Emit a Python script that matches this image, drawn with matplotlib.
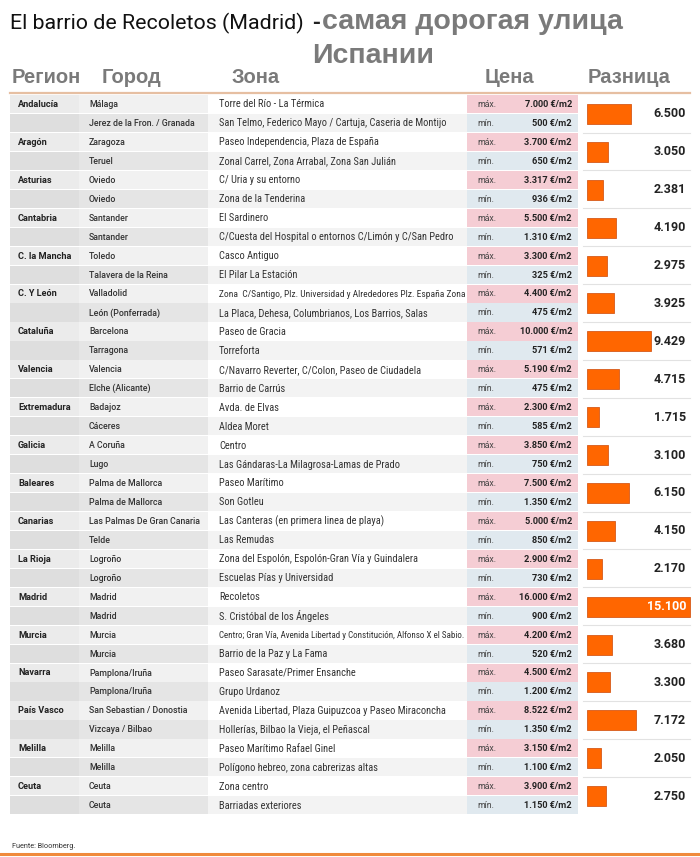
import numpy as np
import matplotlib.pyplot as plt
from matplotlib import font_manager
from matplotlib.patches import Rectangle

regions = ['Andalucía', 'Aragón', 'Asturias', 'Cantabria', 'C. la Mancha', 'C. Y León',
           'Cataluña', 'Valencia', 'Extremadura', 'Galicia', 'Baleares', 'Canarias',
           'La Rioja', 'Madrid', 'Murcia', 'Navarra', 'País Vasco', 'Melilla', 'Ceuta']

cities_max = ['Málaga', 'Zaragoza', 'Oviedo', 'Santander', 'Toledo', 'Valladolid',
              'Barcelona', 'Valencia', 'Badajoz', 'A Coruña', 'Palma de Mallorca',
              'Las Palmas De Gran Canaria', 'Logroño', 'Madrid', 'Murcia', 'Pamplona/Iruña',
              'San Sebastian / Donostia', 'Melilla', 'Ceuta']
cities_min = ['Jerez de la Fron. / Granada', 'Teruel', 'Oviedo', 'Santander',
              'Talavera de la Reina', 'León (Ponferrada)', 'Tarragona', 'Elche (Alicante)',
              'Cáceres', 'Lugo', 'Palma de Mallorca', 'Telde', 'Logroño', 'Madrid', 'Murcia',
              'Pamplona/Iruña', 'Vizcaya / Bilbao', 'Melilla', 'Ceuta']

zones_max = ['Torre del Río - La Térmica', 'Paseo Independencia, Plaza de España',
             'C/ Uria y su entorno', 'El Sardinero', 'Casco Antiguo',
             'Zona  C/Santigo, Plz. Universidad y Alrededores Plz. España Zona',
             'Paseo de Gracia', 'C/Navarro Reverter, C/Colon, Paseo de Ciudadela',
             'Avda. de Elvas', 'Centro', 'Paseo Marítimo',
             'Las Canteras (en primera linea de playa)',
             'Zona del Espolón, Espolón-Gran Vía y Guindalera', 'Recoletos',
             'Centro; Gran Vía, Avenida Libertad y Constitución, Alfonso X el Sabio.',
             'Paseo Sarasate/Primer Ensanche',
             'Avenida Libertad, Plaza Guipuzcoa y Paseo Miraconcha',
             'Paseo Marítimo Rafael Ginel', 'Zona centro']
zones_min = ['San Telmo, Federico Mayo / Cartuja, Caseria de Montijo',
             'Zonal Carrel, Zona Arrabal, Zona San Julián', 'Zona de la Tenderina',
             'C/Cuesta del Hospital o entornos C/Limón y C/San Pedro', 'El Pilar La Estación',
             'La Placa, Dehesa, Columbrianos, Los Barrios, Salas', 'Torreforta',
             'Barrio de Carrús', 'Aldea Moret', 'Las Gándaras-La Milagrosa-Lamas de Prado',
             'Son Gotleu', 'Las Remudas', 'Escuelas Pías y Universidad',
             'S. Cristóbal de los Ángeles', 'Barrio de la Paz y La Fama', 'Grupo Urdanoz',
             'Hollerías, Bilbao la Vieja, el Peñascal', 'Polígono hebreo, zona cabrerizas altas',
             'Barriadas exteriores']

price_max = [7000, 3700, 3317, 5500, 3300, 4400, 10000, 5190, 2300, 3850, 7500, 5000,
             2900, 16000, 4200, 4500, 8522, 3150, 3900]
price_min = [500, 650, 936, 1310, 325, 475, 571, 475, 585, 750, 1350, 850,
             730, 900, 520, 1200, 1350, 1100, 1150]
diffs = [6500, 3050, 2381, 4190, 2975, 3925, 9429, 4715, 1715, 3100, 6150, 4150,
         2170, 15100, 3680, 3300, 7172, 2050, 2750]

plt.rcParams['font.family'] = ['Roboto', 'DejaVu Sans']
ru_font = ['Liberation Sans', 'DejaVu Sans']

# a narrow face for the zone column, if one is installed
installed = {f.name for f in font_manager.fontManager.ttflist}
narrow = [n for n in ['Liberation Sans Narrow', 'Roboto Condensed'] if n in installed]
zone_font = narrow[:1] + ['Roboto', 'DejaVu Sans']
zone_fs = 7.5 if narrow else 6.6


def fmt(v):
    return f'{v:,}'.replace(',', '.')


fig = plt.figure(figsize=(7, 8.57), dpi=100)
ax = fig.add_axes([0, 0, 1, 1])
ax.set_xlim(0, 700)
ax.set_ylim(857, 0)
ax.axis('off')

# title
ax.text(10, 23, 'El barrio de Recoletos (Madrid)', fontsize=15.4, color='#111111', va='center')
ax.text(312, 22, '-', fontsize=17, color='#222222', va='center', fontweight='bold',
        family=ru_font)
ax.text(322, 22, 'самая дорогая улица', fontsize=20.5, color='#7a7a7a', va='center',
        fontweight='bold', family=ru_font)
ax.text(373, 56, 'Испании', fontsize=20.5, color='#7a7a7a', va='center', ha='center',
        fontweight='bold', family=ru_font)

# headers
hdr = dict(fontsize=14.5, color='#7a7a7a', va='center', fontweight='bold', family=ru_font)
ax.text(12, 77, 'Регион', **hdr)
ax.text(102, 77, 'Город', **hdr)
ax.text(232, 77, 'Зона', **hdr)
ax.text(485, 77, 'Цена', **hdr)
ax.text(588, 77, 'Разница', **hdr)
ax.plot([10, 690], [92.5, 92.5], color='#e6bfa2', lw=1.6)

top = 95
rh = 18.95
cols = [(10, 79), (79, 208), (208, 467), (467, 578)]
fill_top = ['#ebebeb', '#f1f1f1', '#ffffff', '#f5cdd4']
fill_bot = ['#dedede', '#e5e5e5', '#f3f3f3', '#e0e9ef']

zone_texts = []
for g in range(len(regions)):
    for k in range(2):
        y0 = top + (2 * g + k) * rh
        fills = fill_top if k == 0 else fill_bot
        for (x0, x1), c in zip(cols, fills):
            ax.add_patch(Rectangle((x0, y0), x1 - x0, rh - 0.8, facecolor=c, edgecolor='none'))
        yc = y0 + rh / 2
        if k == 0:
            ax.text(18, yc, regions[g], fontsize=6.6, fontweight='bold', color='#222222', va='center')
            city, zone, lab, val = cities_max[g], zones_max[g], 'máx.', price_max[g]
        else:
            city, zone, lab, val = cities_min[g], zones_min[g], 'mín.', price_min[g]
        ax.text(89, yc, city, fontsize=6.3, color='#333333', va='center', fontweight='medium')
        zone_texts.append(ax.text(219, yc, zone, fontsize=zone_fs, color='#333333',
                                  va='center', family=zone_font))
        ax.text(477, yc, lab, fontsize=6.3, color='#444444', va='center')
        ax.text(572, yc, fmt(val) + ' €/m2', fontsize=6.6, color='#222222', va='center',
                ha='right', fontweight='bold')
    if g > 0:
        ax.plot([583, 690], [top + 2 * g * rh - 0.4] * 2, color='#e2e2e2', lw=0.8)

# shrink zone texts that would spill into the price column
renderer = fig.canvas.get_renderer()
max_w = 244
for t in zone_texts:
    w = t.get_window_extent(renderer).width
    if w > max_w:
        t.set_fontsize(zone_fs * max_w / w)

# difference bars
centers = top + (2 * np.arange(len(regions)) + 1) * rh
scale = 103 / 15100
ax.barh(centers, np.array(diffs) * scale, left=587, height=20, color='#ff6600',
        edgecolor='#d65a1a', linewidth=0.6)
for g, d in enumerate(diffs):
    col = 'white' if d * scale > 90 else '#222222'
    ax.text(686, centers[g], fmt(d), fontsize=9, color=col, va='center', ha='right',
            fontweight='bold')

# footer
ax.text(12, 846, 'Fuente: Bloomberg.', fontsize=5.2, color='#333333', va='center')
ax.plot([0, 700], [854, 854], color='#f08a3c', lw=2.2)

fig.savefig('out.png', dpi=100)
